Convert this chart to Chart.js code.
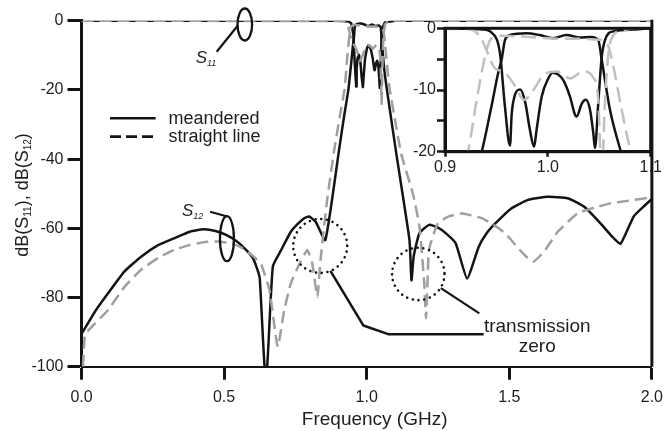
<!DOCTYPE html>
<html><head><meta charset="utf-8">
<script src="https://cdn.jsdelivr.net/npm/chart.js@4.4.1/dist/chart.umd.min.js"></script>
<style>
html,body{margin:0;padding:0;background:#fff;}
#wrap{position:relative;width:671px;height:431px;overflow:hidden;}
#main{position:absolute;left:0;top:0;}
#inset{position:absolute;left:400px;top:16px;}
</style></head><body>
<div id="wrap"><canvas id="main" width="671" height="431"></canvas><canvas id="inset" width="271" height="164"></canvas></div>
<script>
// ---- data: [frequency (GHz), dB] ----
const s11Meandered = [[0,0],[0.90,-0.05],[0.937,-0.2],[0.946,-0.8],[0.9535,-4.1],[0.958,-12.2],[0.9632,-19.0],[0.9648,-14.0],[0.968,-10.8],[0.973,-9.9],[0.978,-12.0],[0.9826,-16.5],[0.9866,-19.2],[0.989,-16.5],[0.994,-11.1],[1.0005,-8.1],[1.0047,-7.2],[1.010,-7.5],[1.015,-8.4],[1.0216,-11.1],[1.0264,-14.0],[1.028,-14.3],[1.033,-12.2],[1.037,-11.6],[1.041,-13.2],[1.0442,-17.0],[1.0458,-19.4],[1.049,-12.2],[1.0524,-4.6],[1.0556,-1.9],[1.0637,-0.5],[1.083,-0.2],[1.10,0],[2.0,0]];
const s12Meandered = [[0,-90.5],[0.015,-88.5],[0.047,-84.1],[0.093,-78.8],[0.15,-72.5],[0.209,-68.2],[0.27,-64.8],[0.324,-62.9],[0.38,-61.0],[0.428,-60.3],[0.47,-60.8],[0.509,-62.0],[0.545,-63.8],[0.578,-66.3],[0.600,-68.5],[0.615,-71.5],[0.625,-74.5],[0.642,-100],[0.651,-100],[0.671,-71.0],[0.700,-66.3],[0.734,-61.0],[0.760,-58.6],[0.781,-57.1],[0.798,-56.6],[0.821,-58.1],[0.855,-63.4],[0.903,-37.4],[0.920,-28.0],[0.9357,-20.0],[0.945,-12.8],[0.952,-7.0],[0.955,-5.1],[0.9583,-1.9],[0.963,-1.1],[0.970,-0.9],[0.979,-0.8],[0.992,-1.1],[1.0053,-1.6],[1.018,-1.1],[1.031,-1.5],[1.042,-1.4],[1.049,-1.9],[1.0524,-5.1],[1.0604,-13.2],[1.071,-20.0],[1.104,-38.5],[1.150,-63.4],[1.157,-75.0],[1.165,-68.0],[1.185,-61.4],[1.219,-59.0],[1.250,-59.8],[1.277,-61.4],[1.312,-64.3],[1.352,-74.5],[1.393,-65.3],[1.420,-61.5],[1.451,-58.6],[1.508,-54.2],[1.566,-51.8],[1.635,-50.9],[1.705,-51.3],[1.763,-53.8],[1.820,-58.6],[1.861,-62.4],[1.890,-64.5],[1.936,-56.6],[1.970,-53.8],[2.0,-51.5]];
const s11Straight = [[0,0],[0.92,-0.1],[0.93,-0.6],[0.9357,-1.8],[0.942,-4.2],[0.9486,-6.5],[0.9567,-7.0],[0.9664,-8.9],[0.977,-11.6],[0.986,-10.0],[0.9956,-7.6],[1.0086,-7.0],[1.0216,-8.1],[1.0345,-7.0],[1.0442,-8.0],[1.049,-11.6],[1.0523,-24.0],[1.0556,-11.6],[1.0589,-4.1],[1.0637,-1.1],[1.073,-0.3],[1.09,0],[2.0,0]];
const s12Straight = [[0.005,-100],[0.012,-91],[0.03,-89],[0.093,-83.6],[0.15,-77],[0.209,-72],[0.27,-68.5],[0.324,-66.3],[0.38,-64.8],[0.44,-63.9],[0.48,-63.8],[0.521,-64.3],[0.56,-65.5],[0.604,-68.2],[0.63,-70.5],[0.659,-77.8],[0.688,-94.2],[0.711,-83.6],[0.734,-75.9],[0.769,-69.5],[0.792,-66.3],[0.809,-70.1],[0.827,-79.8],[0.838,-69.2],[0.861,-52],[0.885,-38],[0.905,-28],[0.9227,-19.7],[0.9308,-11.6],[0.9389,-4.6],[0.944,-1.9],[0.9535,-1.2],[0.97,-1.3],[0.99,-1.5],[1.01,-1.7],[1.03,-1.7],[1.045,-1.8],[1.052,-1.9],[1.0589,-3.0],[1.0637,-6.2],[1.0718,-13.2],[1.080,-19.5],[1.10,-29],[1.121,-38.5],[1.162,-50],[1.185,-59.5],[1.202,-76],[1.208,-86],[1.213,-76],[1.219,-66],[1.25,-58.5],[1.29,-56.5],[1.335,-55.7],[1.404,-57.1],[1.445,-59],[1.485,-61.4],[1.543,-66.8],[1.583,-69.7],[1.624,-66.5],[1.67,-61],[1.739,-55.7],[1.80,-54],[1.855,-52.8],[1.92,-52],[2.0,-51]];
const mainXTicks = [0, 0.5, 1.0, 1.5, 2.0];
const mainYTicks = [0, -20, -40, -60, -80, -100];
const insetYLabels = [0, -10, -20];
const legendLabels = ['meandered', 'straight line'];

// ---- style ----
const FONT = '"Liberation Sans", Arial, Helvetica, sans-serif';
const BLACK = '#141414';
const GRAY = '#9ca0a4';
const GRAY_IN = '#c0c0c0';
const TXT = '#1e1e1e';
const toPts = arr => arr.map(([x, y]) => ({x, y}));

function lineDs(label, arr, color, dashed, extra) {
  return Object.assign({
    label, data: toPts(arr), borderColor: color, borderWidth: 2.5,
    borderDash: dashed ? [12, 6] : [], pointRadius: 0, fill: false, tension: 0,
    borderJoinStyle: 'round'
  }, extra || {});
}

function subText(ctx, parts, x, y, size, subSize, drop, italic, align) {
  const f = s => (italic ? 'italic ' : '') + s + 'px ' + FONT;
  let w = 0;
  for (const [t, sub] of parts) { ctx.font = f(sub ? subSize : size); w += ctx.measureText(t).width; }
  let cx = align === 'center' ? x - w / 2 : x;
  ctx.textAlign = 'left'; ctx.textBaseline = 'alphabetic';
  for (const [t, sub] of parts) {
    ctx.font = f(sub ? subSize : size);
    ctx.fillText(t, cx, y + (sub ? drop : 0));
    cx += ctx.measureText(t).width;
  }
}

// annotation anchors in data units (GHz, dB); radii in px
const notes = {
  s11Ellipse: {f: 0.5726, db: -1.1, rx: 7.3, ry: 16},
  s11Leader: [[0.549, -1.3], [0.474, -8.96]],
  s11Label: {f: 0.4003, db: -12.1},
  s12Ellipse: {f: 0.510, db: -63.0, rx: 7, ry: 22.5},
  s12Leader: [[0.451, -55.2], [0.511, -56.6]],
  s12Label: {f: 0.352, db: -56.5},
  circles: [{f: 0.837, db: -65.1, r: 27}, {f: 1.181, db: -73.2, r: 26.2}],
  leader1: [[0.8728, -72.3], [0.9886, -88.1], [1.0752, -90.6], [1.410, -90.6]],
  leader2: [[1.26, -77.3], [1.395, -84.6]],
  zeroText: {f: 1.598, db1: -89.9, db2: -95.7},
  legend: {f0: 0.1, f1: 0.26, ft: 0.305, db: [-28.2, -33.5], dbText: [-29.9, -35.0]},
  xTitle: {f: 1.028},
};

const mainDecor = {
  id: 'mainDecor',
  afterDatasetsDraw(chart) {
    const {ctx, chartArea: a, scales: {x, y}} = chart;
    const X = f => x.getPixelForValue(f), Y = d => y.getPixelForValue(d);
    ctx.save();
    ctx.strokeStyle = BLACK; ctx.fillStyle = TXT; ctx.lineCap = 'butt'; ctx.lineJoin = 'round';
    // right frame
    ctx.lineWidth = 3;
    ctx.beginPath(); ctx.moveTo(a.right, a.top - 1); ctx.lineTo(a.right, a.bottom); ctx.stroke();
    // legend
    const L = notes.legend;
    ctx.lineWidth = 2.7;
    for (let i = 0; i < 2; i++) {
      ctx.setLineDash(i === 0 ? [] : [11, 5]);
      ctx.beginPath(); ctx.moveTo(X(L.f0), Y(L.db[i])); ctx.lineTo(X(L.f1), Y(L.db[i])); ctx.stroke();
    }
    ctx.setLineDash([]);
    ctx.font = '18px ' + FONT; ctx.textAlign = 'left'; ctx.textBaseline = 'alphabetic';
    for (let i = 0; i < 2; i++) ctx.fillText(legendLabels[i], X(L.ft), Y(L.dbText[i]));
    // ellipses
    ctx.lineWidth = 2.3;
    for (const e of [notes.s11Ellipse, notes.s12Ellipse]) {
      ctx.beginPath(); ctx.ellipse(X(e.f), Y(e.db), e.rx, e.ry, 0, 0, Math.PI * 2); ctx.stroke();
    }
    const poly = (pts, w) => {
      ctx.lineWidth = w; ctx.beginPath();
      pts.forEach(([f, d], i) => i ? ctx.lineTo(X(f), Y(d)) : ctx.moveTo(X(f), Y(d)));
      ctx.stroke();
    };
    poly(notes.s11Leader, 2.2);
    poly(notes.s12Leader, 2.2);
    poly(notes.leader1, 2.5);
    poly(notes.leader2, 2.2);
    // S labels
    subText(ctx, [['S', 0], ['11', 1]], X(notes.s11Label.f), Y(notes.s11Label.db), 17, 9, 3, true, 'left');
    subText(ctx, [['S', 0], ['12', 1]], X(notes.s12Label.f), Y(notes.s12Label.db), 17, 9, 3, true, 'left');
    // dotted circles
    ctx.lineWidth = 2.6; ctx.lineCap = 'round'; ctx.setLineDash([0.01, 5.8]);
    for (const c of notes.circles) {
      ctx.beginPath(); ctx.arc(X(c.f), Y(c.db), c.r, 0, Math.PI * 2); ctx.stroke();
    }
    ctx.setLineDash([]); ctx.lineCap = 'butt';
    // transmission zero text
    ctx.font = '19px ' + FONT; ctx.textAlign = 'center'; ctx.textBaseline = 'alphabetic';
    ctx.fillText('transmission', X(notes.zeroText.f), Y(notes.zeroText.db1));
    ctx.fillText('zero', X(notes.zeroText.f), Y(notes.zeroText.db2));
    ctx.restore();
  },
  afterDraw(chart) {
    const {ctx, scales: {x}} = chart;
    ctx.save(); ctx.fillStyle = TXT;
    ctx.font = '19px ' + FONT; ctx.textAlign = 'center'; ctx.textBaseline = 'alphabetic';
    ctx.fillText('Frequency (GHz)', x.getPixelForValue(notes.xTitle.f), 425);
    ctx.translate(28, 195); ctx.rotate(-Math.PI / 2);
    subText(ctx, [['dB(S', 0], ['11', 1], ['), dB(S', 0], ['12', 1], [')', 0]], 0, 0, 18, 10, 3, false, 'center');
    ctx.restore();
  }
};

const insetFrame = {
  id: 'insetFrame',
  afterDatasetsDraw(chart) {
    const {ctx, chartArea: a} = chart;
    ctx.save(); ctx.strokeStyle = BLACK; ctx.lineWidth = 3;
    ctx.strokeRect(a.left, a.top, a.right - a.left, a.bottom - a.top);
    ctx.restore();
  }
};

const tickFont = {family: FONT, size: 16};
const smooth = {tension: 0.15};

new Chart(document.getElementById('main'), {
  type: 'line',
  data: {datasets: [
    lineDs('S11 straight line', s11Straight, GRAY, true),
    lineDs('S12 straight line', s12Straight, GRAY, true, smooth),
    lineDs('S11 meandered', s11Meandered, BLACK, false),
    lineDs('S12 meandered', s12Meandered, BLACK, false, smooth),
  ]},
  options: {
    responsive: false, animation: false, devicePixelRatio: 1,
    layout: {padding: {top: 20.7, right: 13, left: 0, bottom: 0}},
    plugins: {legend: {display: false}, tooltip: {enabled: false}},
    scales: {
      x: {type: 'linear', min: 0, max: 2,
        afterFit(s) { s.height = 64.3; },
        afterBuildTicks(s) { s.ticks = mainXTicks.map(v => ({value: v})); },
        ticks: {callback: v => Number(v).toFixed(1), font: tickFont, color: TXT, padding: 8, maxRotation: 0, autoSkip: false},
        grid: {drawOnChartArea: false, drawTicks: true, tickLength: 13, tickWidth: 3, tickColor: BLACK},
        border: {display: true, width: 2, color: BLACK}},
      y: {type: 'linear', min: -100, max: 0,
        afterFit(s) { s.width = 81.5; },
        afterBuildTicks(s) { s.ticks = mainYTicks.map(v => ({value: v})); },
        ticks: {callback: v => String(v), font: tickFont, color: TXT, padding: 4},
        grid: {drawOnChartArea: false, drawTicks: true, tickLength: 14, tickWidth: 3, tickColor: BLACK},
        border: {display: true, width: 3, color: BLACK}}
    }
  },
  plugins: [mainDecor]
});

const mono = {cubicInterpolationMode: 'monotone'};
new Chart(document.getElementById('inset'), {
  type: 'line',
  data: {datasets: [
    lineDs('S11 straight line', s11Straight, GRAY_IN, true, Object.assign({borderDash: [15, 7]}, mono)),
    lineDs('S12 straight line', s12Straight, GRAY_IN, true, Object.assign({borderDash: [15, 7]}, mono)),
    lineDs('S11 meandered', s11Meandered, BLACK, false, mono),
    lineDs('S12 meandered', s12Meandered, BLACK, false, mono),
  ]},
  options: {
    responsive: false, animation: false, devicePixelRatio: 1,
    layout: {padding: {top: 12.3, right: 20.3, left: 0, bottom: 0}},
    plugins: {legend: {display: false}, tooltip: {enabled: false}},
    scales: {
      x: {type: 'linear', min: 0.9, max: 1.1,
        afterFit(s) { s.height = 28.3; },
        ticks: {stepSize: 0.1, callback: v => Number(v).toFixed(1), font: tickFont, color: TXT, padding: 1, maxRotation: 0, autoSkip: false},
        grid: {drawOnChartArea: false, drawTicks: true, tickLength: 5, tickWidth: 2.5, tickColor: BLACK},
        border: {display: true, width: 3, color: BLACK}},
      y: {type: 'linear', min: -20, max: 0,
        afterFit(s) { s.width = 45; },
        ticks: {stepSize: 5, callback: v => insetYLabels.includes(v) ? String(v) : '', font: tickFont, color: TXT, padding: 1},
        grid: {drawOnChartArea: false, drawTicks: true, tickLength: 8, tickWidth: 2.5, tickColor: BLACK},
        border: {display: true, width: 3, color: BLACK}}
    }
  },
  plugins: [insetFrame]
});
</script>
</body></html>
